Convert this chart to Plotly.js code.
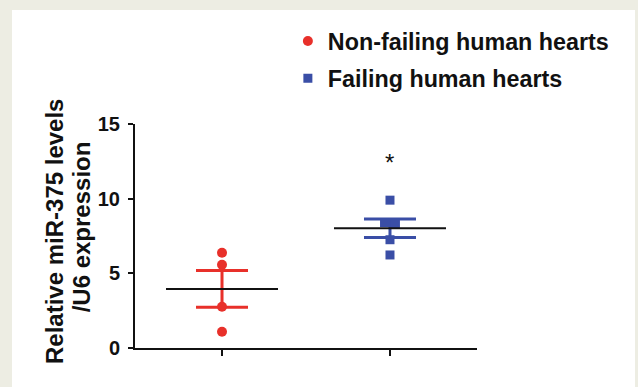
<!DOCTYPE html>
<html>
<head>
<meta charset="utf-8">
<script src="https://cdn.plot.ly/plotly-3.0.1.min.js"></script>
<style>
html,body{margin:0;padding:0;background:#edede3;}
#chart{width:638px;height:387px;}
</style>
</head>
<body>
<div id="chart"></div>
<script>
// ---- data ----
const groups = ["Non-failing human hearts", "Failing human hearts"];
const nonFailing = [6.38, 5.58, 2.76, 1.09];
const failing = [9.9, 8.4, 8.3, 7.25, 6.23];
const yTicks = [0, 5, 10, 15];
const yTitleLines = ["Relative miR-375 levels", "/U6 expression"];
const sigLabel = "*";
const sigLevel = 12.45;

// ---- helpers ----
function mean(a){ return a.reduce((s,v)=>s+v,0)/a.length; }
function sem(a){
  const m = mean(a);
  const v = a.reduce((s,x)=>s+(x-m)*(x-m),0)/(a.length-1);
  return Math.sqrt(v)/Math.sqrt(a.length);
}
// spread near-equal values sideways (scatter dot plot style)
function spread(vals, center, tol, step){
  const xs = vals.map(()=>center);
  const used = new Array(vals.length).fill(false);
  for(let i=0;i<vals.length;i++){
    if(used[i]) continue;
    const grp=[i];
    for(let j=i+1;j<vals.length;j++){
      if(!used[j] && Math.abs(vals[j]-vals[i])<tol) grp.push(j);
    }
    grp.forEach((k,idx)=>{ used[k]=true; xs[k]=center+(idx-(grp.length-1)/2)*step; });
  }
  return xs;
}

const red = "#e8302a", blue = "#3a4ea6";
const series = [nonFailing, failing];
const colors = [red, blue];
const symbols = ["circle", "square"];
const sizes = [10, 9];
const FONT = "Liberation Sans, Arial, sans-serif";

const traces = [];
series.forEach((vals,i)=>{
  const m = mean(vals), s = sem(vals);
  traces.push({
    x:[i], y:[m], type:"scatter", mode:"markers",
    marker:{size:2, color:"rgba(0,0,0,0)"},
    error_y:{type:"data", array:[s], visible:true, color:colors[i], thickness:3, width:26},
    showlegend:false, hoverinfo:"skip"
  });
});
series.forEach((vals,i)=>{
  traces.push({
    x: spread(vals, i, 0.3, 0.065), y: vals, type:"scatter", mode:"markers",
    name: groups[i], legendgroup:"g"+i,
    marker:{symbol:symbols[i], size:sizes[i], color:colors[i]},
    showlegend:true
  });
});
series.forEach((vals,i)=>{
  traces.push({
    x:[i], y:[mean(vals)], type:"scatter", mode:"markers",
    marker:{symbol:"line-ew", size:80, color:"#111", line:{width:2, color:"#111"}},
    showlegend:false, hoverinfo:"skip"
  });
});

const titleFont = {size:24, weight:"bold", color:"#111", family:FONT};

const layout = {
  width:638, height:387,
  margin:{l:135, r:161, t:124, b:39, pad:0},
  paper_bgcolor:"#edede3",
  plot_bgcolor:"rgba(0,0,0,0)",
  font:{family:FONT, color:"#111"},
  showlegend:true,
  legend:{
    x:0.447, xanchor:"left",
    y:1.467, yanchor:"top",
    bgcolor:"rgba(0,0,0,0)",
    font:{size:23.3, family:FONT, color:"#111", weight:"bold"},
    traceorder:"grouped", tracegroupgap:4
  },
  shapes:[{
    type:"rect", xref:"paper", yref:"paper", layer:"below",
    x0:-0.3596, x1:1.462, y0:-0.2, y1:1.509,
    fillcolor:"#ffffff", line:{width:0}
  }],
  xaxis:{
    range:[-0.518, 1.518], tickvals:[0,1], ticktext:["",""],
    showgrid:false, zeroline:false, showline:true, linecolor:"#111", linewidth:2,
    ticks:"outside", ticklen:6, tickwidth:2, tickcolor:"#111"
  },
  yaxis:{
    range:[0,15], tickvals:yTicks, ticktext:yTicks.map(String),
    showgrid:false, zeroline:false, showline:true, linecolor:"#111", linewidth:2,
    ticks:"outside", ticklen:5, tickwidth:2, tickcolor:"#111",
    ticklabelstandoff:4,
    tickfont:{size:20, weight:"bold", color:"#111", family:FONT}
  },
  annotations:[
    {x:1, y:sigLevel, xref:"x", yref:"y", text:sigLabel, showarrow:false,
     font:{size:24, color:"#111", family:FONT}},
    {x:-0.237, y:0.522, xref:"paper", yref:"paper", text:yTitleLines[0], textangle:-90,
     showarrow:false, xanchor:"center", yanchor:"middle", font:titleFont},
    {x:-0.157, y:0.54, xref:"paper", yref:"paper", text:yTitleLines[1], textangle:-90,
     showarrow:false, xanchor:"center", yanchor:"middle", font:titleFont}
  ]
};

Plotly.newPlot("chart", traces, layout, {displayModeBar:false});
</script>
</body>
</html>
